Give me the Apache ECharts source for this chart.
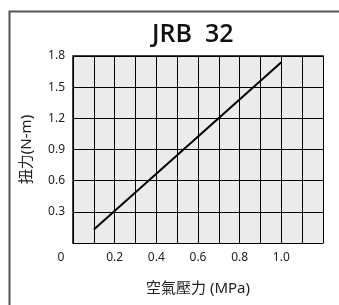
<!DOCTYPE html>
<html>
<head>
<meta charset="utf-8">
<script src="https://cdn.jsdelivr.net/npm/echarts@6/dist/echarts.min.js"></script>
<style>
  html, body { margin: 0; padding: 0; background: #ffffff; }
  #chart { width: 339px; height: 305px; }
</style>
</head>
<body>
<div id="chart"></div>
<script>
// ==============================
// 資料
// ==============================
const titleText = 'JRB  32';
const xLabels = ['0', '0.2', '0.4', '0.6', '0.8', '1.0'];
const yLabels = ['0.3', '0.6', '0.9', '1.2', '1.5', '1.8'];
const pressure = [0.1, 1.0];
const torque = [0.13, 1.74];

const FONT = "'Noto Sans', 'Noto Sans CJK TC', sans-serif";
const PLOT_BG = '#ebebeb';

const chart = echarts.init(document.getElementById('chart'));

chart.setOption({
  animation: false,
  backgroundColor: '#ffffff',
  title: {
    text: titleText,
    left: 147,
    top: 17,
    textStyle: { fontFamily: "'Open Sans', 'Noto Sans', sans-serif", fontSize: 25, fontWeight: 600, color: '#111111' }
  },
  graphic: [{
    type: 'rect',
    left: 7,
    top: 9,
    shape: { width: 345, height: 310 },
    style: { fill: 'none', stroke: '#555555', lineWidth: 2 },
    silent: true
  }, {
    // 圖區底色
    type: 'rect',
    left: 73,
    top: 56,
    z: -10,
    shape: { width: 250, height: 187 },
    style: { fill: PLOT_BG },
    silent: true
  }],
  grid: { left: 73, top: 56, right: 16, bottom: 62, show: true, backgroundColor: PLOT_BG, borderColor: '#000000', borderWidth: 1.5 },
  xAxis: {
    type: 'value',
    min: 0,
    max: 1.2,
    interval: 0.1,
    name: '空氣壓力 (MPa)',
    nameLocation: 'middle',
    nameGap: 38,
    nameTextStyle: { fontFamily: FONT, fontSize: 15, color: '#222222' },
    axisLine: { show: false },
    axisTick: { show: false },
    splitLine: { show: true, lineStyle: { color: '#000000', width: 1 } },
    axisLabel: {
      margin: 9,
      fontFamily: FONT,
      fontSize: 12,
      color: '#222222',
      formatter: (v, i) => {
        if (i === 0) return '{z|' + xLabels[0] + '}';
        return i % 2 === 0 && xLabels[i / 2] ? xLabels[i / 2] : '';
      },
      rich: { z: { fontFamily: FONT, fontSize: 12, color: '#222222', padding: [0, 24, 0, 0] } }
    }
  },
  yAxis: {
    type: 'value',
    min: 0,
    max: 1.8,
    interval: 0.3,
    name: '扭力(N-m)',
    nameLocation: 'middle',
    nameRotate: 90,
    nameGap: 39,
    nameTextStyle: { fontFamily: FONT, fontSize: 15, color: '#222222' },
    axisLine: { show: false },
    axisTick: { show: false },
    splitArea: { show: true, areaStyle: { color: [PLOT_BG] } },
    splitLine: { show: true, lineStyle: { color: '#000000', width: 1 } },
    axisLabel: {
      margin: 8,
      fontFamily: FONT,
      fontSize: 12,
      color: '#222222',
      formatter: (v, i) => (i === 0 ? '' : yLabels[i - 1])
    }
  },
  series: [{
    type: 'line',
    data: pressure.map((p, i) => [p, torque[i]]),
    symbol: 'none',
    lineStyle: { color: '#000000', width: 2 }
  }]
});
</script>
</body>
</html>
